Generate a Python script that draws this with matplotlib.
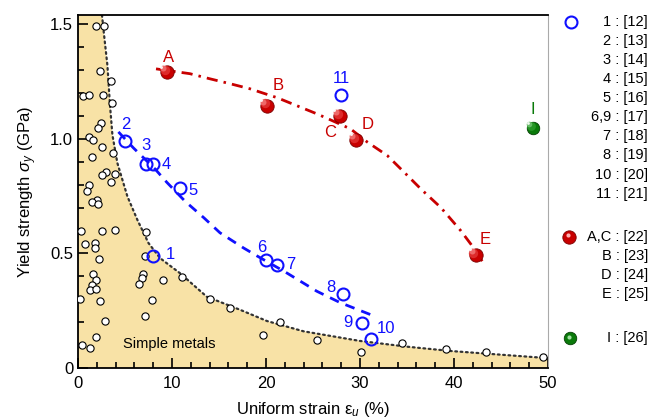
import matplotlib
matplotlib.use("Agg")
import matplotlib.pyplot as plt
from matplotlib.transforms import ScaledTranslation
from matplotlib.lines import Line2D

plt.rcParams['font.family'] = ['Liberation Sans', 'DejaVu Sans']
plt.rcParams['mathtext.fontset'] = 'custom'
plt.rcParams['mathtext.rm'] = 'Liberation Sans'
plt.rcParams['mathtext.it'] = 'Liberation Sans:italic'

# ---------------- data ----------------
# simple metals (white circles)
metals_x = [1.88, 2.77, 2.35, 3.48, 0.57, 1.17, 2.70, 3.59, 2.42, 2.13, 1.17,
            1.63, 2.60, 3.76, 1.53, 2.95, 2.60, 3.94, 3.55, 1.17, 0.92, 1.99,
            1.53, 2.13, 0.28, 2.60, 3.90, 0.71, 1.78, 1.78, 2.24, 7.11, 1.60,
            1.88, 1.53, 1.28, 1.88, 6.96, 6.79, 6.50, 8.99, 0.21, 2.31, 7.86,
            7.11, 2.88, 1.95, 0.46, 1.28, 7.25, 11.05, 14.0, 16.13, 19.69,
            21.46, 25.4, 30.06, 34.5, 39.2, 43.4, 49.5]
metals_y = [1.49, 1.49, 1.295, 1.25, 1.186, 1.19, 1.19, 1.155, 1.067, 1.048, 1.009,
            0.993, 0.963, 0.938, 0.919, 0.855, 0.841, 0.846, 0.811, 0.797, 0.774, 0.735,
            0.724, 0.714, 0.597, 0.597, 0.600, 0.540, 0.547, 0.525, 0.477, 0.490, 0.410,
            0.386, 0.360, 0.340, 0.345, 0.410, 0.393, 0.368, 0.383, 0.300, 0.294, 0.296,
            0.226, 0.203, 0.135, 0.099, 0.088, 0.593, 0.396, 0.300, 0.262, 0.146,
            0.202, 0.123, 0.070, 0.110, 0.081, 0.070, 0.050]

# boundary of the simple-metals region (dotted guide line)
bound_x = [2.55, 2.77, 3.13, 3.40, 3.66, 4.19, 5.26, 6.32, 7.50, 8.74, 10.87,
           13.7, 17.3, 20.1, 24.0, 30.0, 35.0, 39.7, 45.0, 50.0]
bound_y = [1.54, 1.454, 1.32, 1.148, 1.017, 0.894, 0.748, 0.646, 0.545, 0.479, 0.413,
           0.311, 0.253, 0.205, 0.160, 0.118, 0.093, 0.074, 0.058, 0.043]

# blue open circles
blue_labels = ['1', '2', '3', '4', '5', '6', '7', '8', '9', '10', '11']
blue_x = [7.96, 5.0, 7.25, 8.03, 10.8, 20.04, 21.2, 28.2, 30.2, 31.2, 28.0]
blue_y = [0.49, 0.99, 0.89, 0.89, 0.784, 0.47, 0.451, 0.325, 0.197, 0.128, 1.19]

# blue dashed guide line
bfit_x = [4.3, 5.9, 8.2, 9.45, 11.4, 13.4, 15.1, 17.6, 19.0, 20.5, 22.0, 25.4, 27.9, 31.3]
bfit_y = [1.03, 0.96, 0.868, 0.81, 0.727, 0.655, 0.590, 0.524, 0.490, 0.455, 0.420, 0.335, 0.285, 0.230]

# red spheres
red_labels = ['A', 'B', 'C', 'D', 'E']
red_x = [9.45, 20.1, 27.85, 29.6, 42.3]
red_y = [1.29, 1.145, 1.10, 0.994, 0.494]

# red dash-dot guide line
rfit_x = [8.3, 9.5, 11.9, 14.0, 16.2, 18.3, 21.2, 25.4, 27.0, 29.0, 30.8, 32.9,
          34.7, 36.5, 38.6, 40.7, 41.8, 43.0]
rfit_y = [1.305, 1.298, 1.284, 1.262, 1.24, 1.218, 1.179, 1.109, 1.08, 1.043, 0.985, 0.927,
          0.854, 0.78, 0.70, 0.60, 0.54, 0.466]

# green sphere
green_labels = ['I']
green_x = [48.4]
green_y = [1.046]

# legend texts
legend_blue = ['1 : [12]', '2 : [13]', '3 : [14]', '4 : [15]', '5 : [16]', '6,9 : [17]',
               '7 : [18]', '8 : [19]', '10 : [20]', '11 : [21]']
legend_red = ['A,C : [22]', 'B : [23]', 'D : [24]', 'E : [25]']
legend_green = ['I : [26]']

# label offsets (pixels): style/position info kept separate from data
blue_off = [(18, 1), (1, 17), (0, 18), (13, -1), (13, -2), (-5, 13), (13, 0),
            (-12, 6), (-14, 0), (15, 10), (0, 17)]
red_off = [(2, 15), (11, 20), (-10, -17), (11, 16), (10, 15)]
green_off = [(0, 19)]

# ---------------- figure ----------------
W, H = 654, 420
fig = plt.figure(figsize=(W / 100, H / 100), dpi=100)
ax = fig.add_axes([78 / W, 1 - 368 / H, (548 - 78) / W, (368 - 15) / H])
ax.set_xlim(0, 50)
ax.set_ylim(0, 1.54)

FILL = '#f8e2a6'
BLUE = '#1010ff'
RED = '#c80000'
GREEN = '#0a7a0a'

# filled region
poly_x = [0, 0] + bound_x + [50]
poly_y = [0, 1.54] + bound_y + [0]
ax.fill(poly_x, poly_y, color=FILL, lw=0, zorder=1)
ax.plot(bound_x, bound_y, color='#333333', lw=1.6, ls=(0, (0.8, 1.6)),
        dash_capstyle='round', zorder=2)

ax.plot(metals_x, metals_y, 'o', ms=5.2, mfc='white', mec='black', mew=0.8, zorder=3)

# fits
ax.plot(bfit_x, bfit_y, color=BLUE, lw=2.0, ls=(0, (3.5, 2.6)), zorder=4)
ax.plot(rfit_x, rfit_y, color=RED, lw=2.0, ls=(0, (4, 2.2, 0.9, 2.2)), zorder=4)

# blue open circles
ax.plot(blue_x, blue_y, 'o', ms=8.6, mfc='none', mec=BLUE, mew=1.5, zorder=6)


def sphere(xs, ys, base, dark, ms):
    ax.plot(xs, ys, 'o', ms=ms, mfc=base, mec=dark, mew=0.6, zorder=6)
    layers = [(0.70, '#e03030', 0.9), (0.45, '#f07070', 0.9), (0.22, '#ffffff', 0.9)]
    if base == GREEN:
        layers = [(0.70, '#2a9a2a', 0.9), (0.45, '#70c070', 0.9), (0.22, '#ffffff', 0.9)]
    for frac, c, a in layers:
        shift = (1 - frac) * ms * 0.55 / 72.0
        tr = ax.transData + ScaledTranslation(-shift, shift, fig.dpi_scale_trans)
        ax.plot(xs, ys, 'o', ms=ms * frac, mfc=c, mec='none', alpha=a,
                transform=tr, zorder=7)


sphere(red_x, red_y, RED, '#7a0000', 9.6)
sphere(green_x, green_y, GREEN, '#054005', 9.0)


def label(xs, ys, labs, offs, color):
    for x, y, t, (dx, dy) in zip(xs, ys, labs, offs):
        ax.annotate(t, (x, y), xytext=(dx * 0.72, dy * 0.72), textcoords='offset points',
                    ha='center', va='center', fontsize=12, color=color, zorder=8)


label(blue_x, blue_y, blue_labels, blue_off, BLUE)
label(red_x, red_y, red_labels, red_off, RED)
label(green_x, green_y, green_labels, green_off, GREEN)

ax.text(9.7, 0.105, 'Simple metals', fontsize=10.5, ha='center', va='center', zorder=8)

# axes styling
ax.set_xticks([0, 10, 20, 30, 40, 50])
ax.set_xticks(range(0, 51, 2), minor=True)
ax.set_yticks([0, 0.5, 1.0, 1.5])
ax.set_yticklabels(['0', '0.5', '1.0', '1.5'])
ax.set_yticks([i / 10 for i in range(0, 16)], minor=True)
ax.tick_params(which='both', direction='in', top=False, right=False, labelsize=12, width=1.2)
ax.tick_params(which='major', length=7)
ax.tick_params(which='minor', length=4)
ax.tick_params(axis='x', pad=6)
for s in ['left', 'bottom', 'top']:
    ax.spines[s].set_linewidth(1.3)
ax.spines['right'].set_color('#aaaaaa')
ax.spines['right'].set_linewidth(0.8)

ax.set_xlabel(r'Uniform strain ε$_u$ (%)', fontsize=12, labelpad=6)
ax.set_ylabel(r'Yield strength $\sigma_y$ (GPa)', fontsize=12, labelpad=8)

# legend on the right
def fy(py):
    return 1 - py / H

blue_rows = [21.7 + 19.1 * i for i in range(len(legend_blue))]
for t, py in zip(legend_blue, blue_rows):
    fig.text(648 / W, fy(py), t, ha='right', va='center', fontsize=10.5)
fig.add_artist(Line2D([571 / W], [fy(blue_rows[0])], marker='o', ms=8.6, mfc='none',
                      mec=BLUE, mew=1.5, transform=fig.transFigure))

red_rows = [236.7 + 19.2 * i for i in range(len(legend_red))]
for t, py in zip(legend_red, red_rows):
    fig.text(648 / W, fy(py), t, ha='right', va='center', fontsize=10.5)
fig.add_artist(Line2D([569 / W], [fy(red_rows[0])], marker='o', ms=9.6, mfc=RED,
                      mec='#7a0000', mew=0.6, transform=fig.transFigure))
fig.add_artist(Line2D([567.5 / W], [fy(red_rows[0]) + 1.5 / H], marker='o', ms=3, mfc='#ffb0b0',
                      mec='none', transform=fig.transFigure))

green_rows = [338.3]
for t, py in zip(legend_green, green_rows):
    fig.text(648 / W, fy(py), t, ha='right', va='center', fontsize=10.5)
fig.add_artist(Line2D([570 / W], [fy(green_rows[0])], marker='o', ms=9.0, mfc=GREEN,
                      mec='#054005', mew=0.6, transform=fig.transFigure))
fig.add_artist(Line2D([568.5 / W], [fy(green_rows[0]) + 1.5 / H], marker='o', ms=3, mfc='#a0e0a0',
                      mec='none', transform=fig.transFigure))

fig.savefig('out.png', dpi=100)
